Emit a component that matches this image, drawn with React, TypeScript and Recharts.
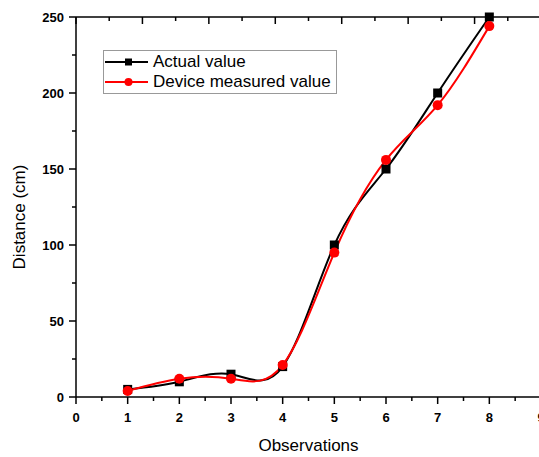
import React from "react";
import { LineChart, Line, XAxis, YAxis, Legend } from "recharts";

const observations = [1, 2, 3, 4, 5, 6, 7, 8];
const actualValue = [5, 10, 15, 20, 100, 150, 200, 250];
const deviceValue = [4, 12, 12, 21, 95, 156, 192, 244];

const xTicks = [0, 0.5, 1, 1.5, 2, 2.5, 3, 3.5, 4, 4.5, 5, 5.5, 6, 6.5, 7, 7.5, 8, 8.5, 9];
const yTicks = [0, 25, 50, 75, 100, 125, 150, 175, 200, 225, 250];

const data = observations.map((obs, i) => ({
  obs,
  actual: actualValue[i],
  device: deviceValue[i],
}));

const FONT = "'Liberation Sans', Arial, sans-serif";
const TS = 7;   // tick size
const TM = 3;   // tick margin

// bottom axis: outward ticks, major longer, labels on majors
const BottomTick = (p: any) => {
  const { x, y, payload } = p;
  const axisY = y - TS - TM;
  const major = Number.isInteger(payload.value);
  return (
    <g>
      <line x1={x} x2={x} y1={axisY} y2={axisY + (major ? 7 : 4)} stroke="#000" strokeWidth={1.5} />
      {major && (
        <text x={x} y={axisY + 25} textAnchor="middle" fontFamily={FONT} fontWeight="bold" fontSize={13} fill="#000">
          {payload.value}
        </text>
      )}
    </g>
  );
};

const LeftTick = (p: any) => {
  const { x, y, payload } = p;
  const axisX = x + TS + TM;
  const major = payload.value % 50 === 0;
  return (
    <g>
      <line x1={axisX} x2={axisX - (major ? 7 : 4)} y1={y} y2={y} stroke="#000" strokeWidth={1.5} />
      {major && (
        <text x={axisX - 12} y={y + 4.5} textAnchor="end" fontFamily={FONT} fontWeight="bold" fontSize={13} fill="#000">
          {payload.value}
        </text>
      )}
    </g>
  );
};

// mirrored axes: inward ticks, no labels
const TopTick = (p: any) => {
  const { x, y, payload } = p;
  const axisY = y + TS + TM;
  const major = Number.isInteger(payload.value);
  return <line x1={x} x2={x} y1={axisY} y2={axisY + (major ? 7 : 4)} stroke="#000" strokeWidth={1.5} />;
};

const RightTick = (p: any) => {
  const { x, y, payload } = p;
  const axisX = x - TS - TM;
  const major = payload.value % 50 === 0;
  return <line x1={axisX} x2={axisX - (major ? 7 : 4)} y1={y} y2={y} stroke="#000" strokeWidth={1.5} />;
};

const SquareDot = (p: any) => {
  const { cx, cy, key } = p;
  return <rect key={key} x={cx - 4.5} y={cy - 4.5} width={9} height={9} fill="#000" />;
};

const LegendBox = () => (
  <div style={{ border: "1px solid #999", background: "#fff", padding: "1px 0 1px 1px", fontFamily: FONT, fontSize: 17, lineHeight: "20px" }}>
    {[
      { name: "Actual value", color: "#000", square: true },
      { name: "Device measured value", color: "#ff0000", square: false },
    ].map((e) => (
      <div key={e.name} style={{ display: "flex", alignItems: "center" }}>
        <svg width={44} height={16}>
          <line x1={0} x2={43} y1={8} y2={8} stroke={e.color} strokeWidth={2} />
          {e.square ? <rect x={20} y={4.5} width={7} height={7} fill={e.color} /> : <circle cx={23.5} cy={8} r={4} fill={e.color} />}
        </svg>
        <span style={{ marginLeft: 4, color: "#000" }}>{e.name}</span>
      </div>
    ))}
  </div>
);

export default function App() {
  return (
    <div style={{ position: "absolute", left: 0, top: 0, background: "#fff" }}>
      <LineChart width={539} height={457} data={data} margin={{ top: 0, right: -2, bottom: 0, left: 0 }}>
        <XAxis
          dataKey="obs" type="number" domain={[0, 9]} ticks={xTicks} interval={0}
          height={60} tickSize={TS} tickMargin={TM} tickLine={false} tick={<BottomTick />}
          axisLine={{ stroke: "#000", strokeWidth: 1.5 }}
          label={({ viewBox }: any) => (
            <text x={viewBox.x + viewBox.width / 2} y={viewBox.y + 54} textAnchor="middle" fontFamily={FONT} fontSize={17} fill="#000">
              Observations
            </text>
          )}
        />
        <XAxis
          xAxisId="top" orientation="top" type="number" domain={[0, 9]} ticks={xTicks} interval={0}
          height={17} tickSize={TS} tickMargin={TM} tickLine={false} tick={<TopTick />}
          axisLine={{ stroke: "#000", strokeWidth: 1.5 }}
        />
        <YAxis
          type="number" domain={[0, 250]} ticks={yTicks} interval={0}
          width={76} tickSize={TS} tickMargin={TM} tickLine={false} tick={<LeftTick />}
          axisLine={{ stroke: "#000", strokeWidth: 1.5 }}
          label={({ viewBox }: any) => (
            <text
              x={viewBox.x + 21} y={viewBox.y + viewBox.height / 2 + 10} textAnchor="middle"
              transform={`rotate(-90, ${viewBox.x + 21}, ${viewBox.y + viewBox.height / 2 + 10})`}
              fontFamily={FONT} fontSize={17} fill="#000" dominantBaseline="middle"
            >
              Distance (cm)
            </text>
          )}
        />
        <YAxis
          yAxisId="right" orientation="right" type="number" domain={[0, 250]} ticks={yTicks} interval={0}
          width={0} tickSize={TS} tickMargin={TM} tickLine={false} tick={<RightTick />}
          axisLine={{ stroke: "#000", strokeWidth: 1.5 }}
        />
        <Legend
          layout="horizontal" verticalAlign="middle" align="center"
          wrapperStyle={{ left: 103, top: 50, width: 234, height: "auto" }}
          content={<LegendBox />}
        />
        <Line
          type="natural" dataKey="actual" name="Actual value" stroke="#000" strokeWidth={2}
          dot={<SquareDot />} activeDot={false} isAnimationActive={false}
        />
        <Line
          type="natural" dataKey="device" name="Device measured value" stroke="#ff0000" strokeWidth={2}
          dot={{ r: 5, fill: "#ff0000", stroke: "none" }} activeDot={false} isAnimationActive={false}
        />
      </LineChart>
    </div>
  );
}
